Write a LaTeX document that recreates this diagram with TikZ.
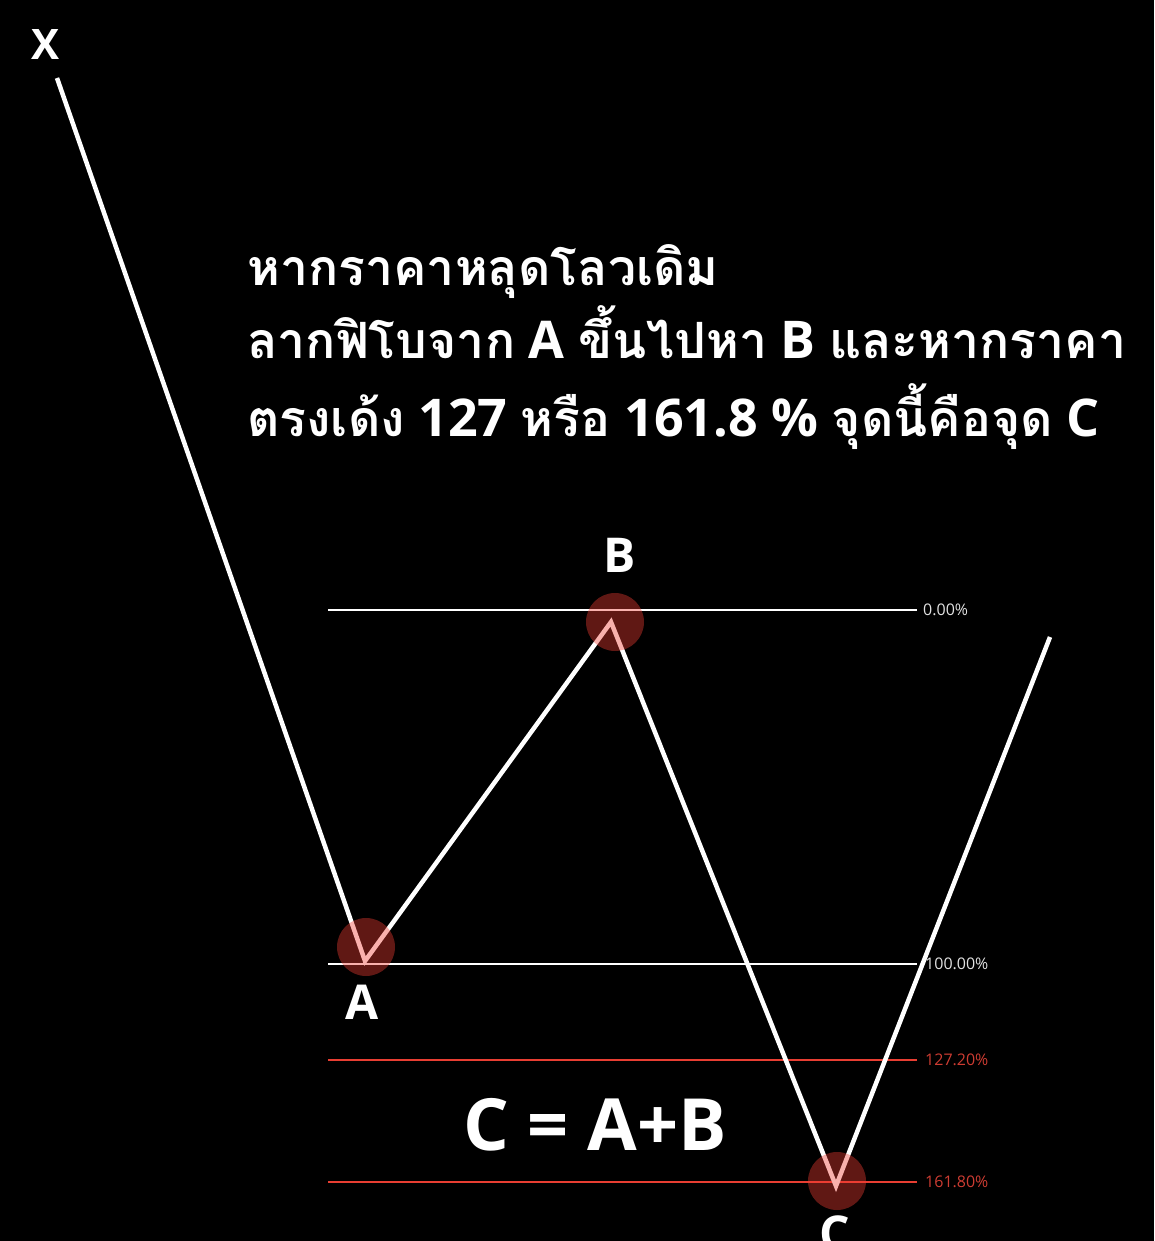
\documentclass[tikz,border=0pt]{standalone}
\usepackage{fontspec}
\setmainfont{Open Sans}[BoldFont={Open Sans Bold}]
\newfontfamily\thaifont[Script=Thai]{Loma}
\newcommand{\tht}[1]{{\thaifont\bfseries\fontsize{50}{50}\selectfont #1}}
\definecolor{fibred}{RGB}{232,62,50}
\definecolor{labred}{RGB}{205,60,50}
\definecolor{dotred}{RGB}{240,60,50}
\definecolor{labgray}{RGB}{225,225,225}
\tikzset{
  zig/.style={draw=white, line width=4.5pt, line join=miter},
  lvlw/.style={draw=white, line width=2pt},
  lvlr/.style={draw=fibred, line width=2pt},
  pct/.style={anchor=west, inner sep=0pt, font=\fontsize{16}{16}\selectfont},
  ptlbl/.style={anchor=base, inner sep=0pt, text=white, font=\fontsize{48}{48}\selectfont\bfseries},
  dot/.style={fill=dotred, fill opacity=0.4, draw=none},
  head/.style={anchor=base west, inner sep=0pt, text=white, font=\fontsize{52}{52}\selectfont\bfseries}
}
\begin{document}
\begin{tikzpicture}[x=1pt,y=-1pt]
\fill[black] (0,0) rectangle (1154,1241);
\clip (0,0) rectangle (1154,1241);
% level labels
\node[pct, text=labgray] (p0) at (923,610) {0.00\%};
\node[pct, text=labgray] (p100) at (925,964) {100.00\%};
\node[pct, text=labred] (p127) at (925,1060) {127.20\%};
\node[pct, text=labred] (p161) at (925,1182) {161.80\%};
\coordinate (s0) at (328,610);
\coordinate (s100) at (328,964);
\coordinate (s127) at (328,1060);
\coordinate (s161) at (328,1182);
\draw[lvlw] (s0) -- (917,610);
\draw[lvlw] (s100) -- (917,964);
\draw[lvlr] (s127) -- (917,1060);
\draw[lvlr] (s161) -- (917,1182);
% zigzag
\coordinate (X) at (57,78);
\coordinate (A) at (365,961);
\coordinate (B) at (611,622);
\coordinate (C) at (836,1186);
\coordinate (E) at (1050,637);
\draw[zig] (X) -- (A) -- (B) -- (C) -- (E);
% dots
\fill[dot] (366,947) circle (29);
\fill[dot] (615,622) circle (29);
\fill[dot] (837,1181) circle (29);
% point labels
\node[ptlbl, font=\fontsize{42}{42}\selectfont\bfseries] (lx) at (46,60) {X};
\node[ptlbl] (lb) at (620,572) {B};
\node[ptlbl] (la) at (362,1019) {A};
\node[ptlbl] (lc) at (835,1250) {C};
\node[anchor=base, inner sep=0pt, text=white, font=\fontsize{72}{72}\selectfont\bfseries] (eq) at (595,1150) {C = A+B};
% heading
\node[head] (h1) at (247,285) {\tht{หากราคาหลุดโลวเดิม}};
\node[head] (h2) at (247,358) {\tht{ลากฟิโบจาก} A \tht{ขึ้นไปหา} B \tht{และหากราคา}};
\node[head] (h3) at (247,436) {\tht{ตรงเด้ง} 127 \tht{หรือ} 161.8 \% \tht{จุดนี้คือจุด} C};
\end{tikzpicture}
\end{document}
